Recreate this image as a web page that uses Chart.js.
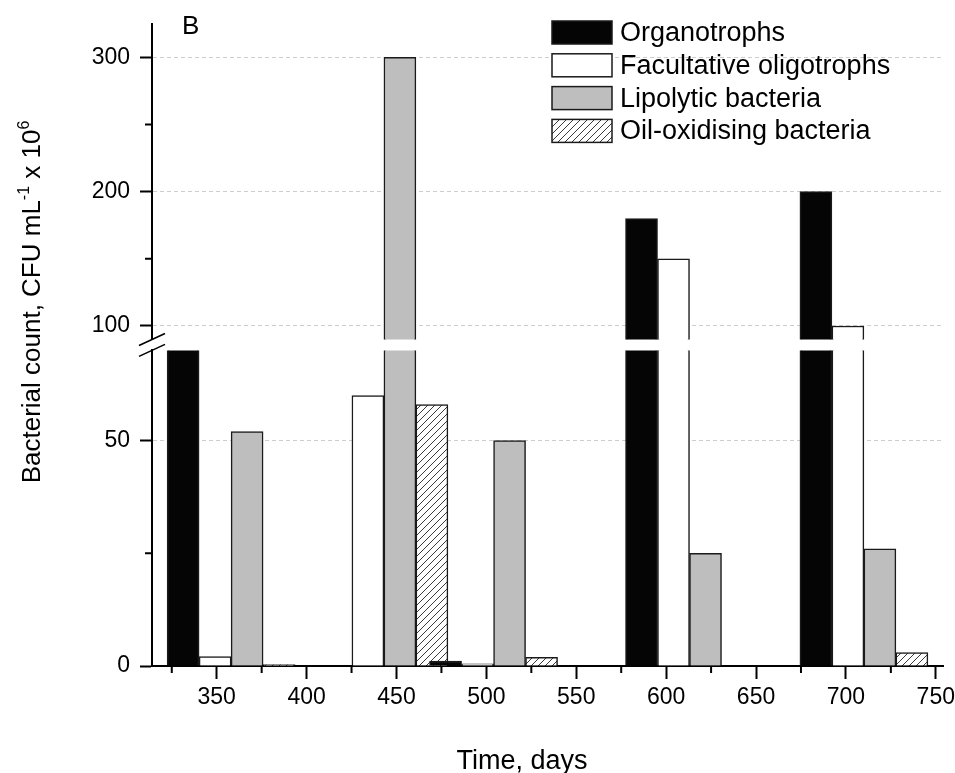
<!DOCTYPE html>
<html>
<head>
<meta charset="utf-8">
<script src="https://cdn.jsdelivr.net/npm/chart.js@4.4.1/dist/chart.umd.min.js"></script>
<style>
  html, body { margin: 0; padding: 0; background: #fff; }
</style>
</head>
<body>
<canvas id="myChart" width="955" height="773"></canvas>
<script>
// sampling days and counts (CFU mL-1 x 10^6)
const days = [358, 443, 504, 613, 710];
const organotrophs = [80, 0, 1.1, 180, 200];
const facultativeOligotrophs = [2.1, 60, 0.5, 150, 100];
const lipolyticBacteria = [52, 300, 50, 25, 26];
const oilOxidisingBacteria = [0.3, 58, 1.9, 0, 3];
const seriesNames = ['Organotrophs', 'Facultative oligotrophs', 'Lipolytic bacteria', 'Oil-oxidising bacteria'];

const xTicks = [350, 400, 450, 500, 550, 600, 650, 700, 750];
const xMinorTicks = [325, 375, 425, 475, 525, 575, 625, 675, 725];
const upperTicks = [100, 200, 300];
const upperMinorTicks = [150, 250];
const lowerTicks = [0, 50];
const lowerMinorTicks = [25];

const fontFamily = "'Liberation Sans', Arial, Helvetica, sans-serif";
const tickFont = { family: fontFamily, size: 23 };

const canvas = document.getElementById('myChart');
const ctx = canvas.getContext('2d');

function hatchPattern() {
  const c = document.createElement('canvas');
  c.width = 7; c.height = 7;
  const g = c.getContext('2d');
  g.fillStyle = '#fff';
  g.fillRect(0, 0, 7, 7);
  g.strokeStyle = '#3a3a3a';
  g.lineWidth = 1;
  g.beginPath();
  g.moveTo(0, 7); g.lineTo(7, 0);
  g.moveTo(-1, 1); g.lineTo(1, -1);
  g.moveTo(6, 8); g.lineTo(8, 6);
  g.stroke();
  return ctx.createPattern(c, 'repeat');
}

const seriesData = [organotrophs, facultativeOligotrophs, lipolyticBacteria, oilOxidisingBacteria];
const fills = ['#050505', '#ffffff', '#bebebe', hatchPattern()];

// same series drawn twice: once on the upper segment, once on the lower one
const datasets = [];
['yHigh', 'yLow'].forEach(axis => {
  seriesNames.forEach((name, i) => {
    datasets.push({
      label: name,
      data: seriesData[i],
      yAxisID: axis,
      stack: 's' + i,
      backgroundColor: fills[i],
      borderColor: '#1a1a1a',
      borderWidth: 1.5,
      barThickness: 32,
      clip: 0
    });
  });
});

const fixTicks = list => scale => { scale.ticks = list.map(v => ({ value: v })); };

const yGrid = {
  color: ctx => ctx.tick && ctx.tick.value === 0 ? 'rgba(0,0,0,0)' : '#cdcdcd',
  lineWidth: 1,
  tickLength: 12,
  tickColor: '#000',
  tickWidth: 2
};

const decorations = {
  id: 'decorations',
  afterDraw(chart) {
    const c = chart.ctx;
    const x = chart.scales.x, hi = chart.scales.yHigh, lo = chart.scales.yLow;
    const axisX = hi.right;
    c.save();
    c.strokeStyle = '#000';
    c.lineWidth = 2;
    c.beginPath();
    xMinorTicks.forEach(v => {
      const px = x.getPixelForValue(v);
      c.moveTo(px, x.top); c.lineTo(px, x.top + 7);
    });
    upperMinorTicks.forEach(v => {
      const py = hi.getPixelForValue(v);
      c.moveTo(axisX - 7, py); c.lineTo(axisX, py);
    });
    lowerMinorTicks.forEach(v => {
      const py = lo.getPixelForValue(v);
      c.moveTo(axisX - 7, py); c.lineTo(axisX, py);
    });
    c.stroke();

    // axis break marks
    c.lineWidth = 1.6;
    c.beginPath();
    [hi.bottom, lo.top].forEach(y => {
      c.moveTo(axisX - 13, y + 6); c.lineTo(axisX + 13, y - 6);
    });
    c.stroke();

    // legend
    const lx = 552, ly = 21, bw = 60, bh = 23, pitch = 32.8;
    c.font = '27px ' + fontFamily;
    c.textBaseline = 'middle';
    c.textAlign = 'left';
    chart.data.datasets.slice(0, 4).forEach((ds, i) => {
      const top = ly + i * pitch;
      c.fillStyle = ds.backgroundColor;
      c.fillRect(lx, top, bw, bh);
      c.lineWidth = 1.5;
      c.strokeStyle = '#1a1a1a';
      c.strokeRect(lx, top, bw, bh);
      c.fillStyle = '#000';
      c.fillText(ds.label, lx + bw + 8, top + bh / 2 + 1);
    });

    // panel letter
    c.textBaseline = 'alphabetic';
    c.font = '26px ' + fontFamily;
    c.fillText('B', 182, 34);

    // x title
    c.font = '27px ' + fontFamily;
    c.textAlign = 'center';
    c.fillText('Time, days', 522, 769);

    // y title with superscripts
    const parts = [
      ['Bacterial count, CFU mL', 26, 0],
      ['-1', 16, -11],
      [' x 10', 26, 0],
      ['6', 16, -11]
    ];
    let total = 0;
    parts.forEach(p => { c.font = p[1] + 'px ' + fontFamily; p.push(c.measureText(p[0]).width); total += p[3]; });
    c.translate(40, 302);
    c.rotate(-Math.PI / 2);
    c.textAlign = 'left';
    let pos = -total / 2;
    parts.forEach(p => {
      c.font = p[1] + 'px ' + fontFamily;
      c.fillText(p[0], pos, p[2]);
      pos += p[3];
    });
    c.restore();
  }
};

new Chart(canvas, {
  type: 'bar',
  data: { labels: days, datasets: datasets },
  options: {
    responsive: false,
    animation: false,
    devicePixelRatio: 1,
    layout: { padding: { left: 0, top: 23, right: 12, bottom: 0 } },
    plugins: { legend: { display: false }, tooltip: { enabled: false } },
    scales: {
      x: {
        type: 'linear',
        position: 'bottom',
        offset: false,
        min: 314,
        max: 754,
        afterBuildTicks: fixTicks(xTicks),
        afterFit: s => { s.height = 107; s.paddingLeft = 0; s.paddingRight = 0; },
        grid: { offset: false, drawOnChartArea: false, tickLength: 13, tickColor: '#000', tickWidth: 2 },
        border: { color: '#000', width: 2 },
        ticks: { font: tickFont, color: '#000', padding: 5, maxRotation: 0, autoSkip: false }
      },
      yHigh: {
        type: 'linear',
        position: 'left',
        stack: 'y',
        stackWeight: 316,
        weight: 3,
        stacked: false,
        min: 90,
        max: 325,
        afterBuildTicks: fixTicks(upperTicks),
        afterFit: s => { s.width = 152; },
        grid: yGrid,
        border: { color: '#000', width: 2, dash: [4, 3] },
        ticks: { font: tickFont, color: '#000', padding: 10 }
      },
      yGap: {
        type: 'linear',
        position: 'left',
        stack: 'y',
        stackWeight: 11,
        weight: 2,
        min: 0,
        max: 1,
        display: true,
        afterFit: s => { s.width = 152; },
        grid: { display: false },
        border: { display: false },
        ticks: { display: false }
      },
      yLow: {
        type: 'linear',
        position: 'left',
        stack: 'y',
        stackWeight: 316,
        weight: 1,
        stacked: false,
        min: 0,
        max: 70,
        afterBuildTicks: fixTicks(lowerTicks),
        afterFit: s => { s.width = 152; },
        grid: yGrid,
        border: { color: '#000', width: 2, dash: [4, 3] },
        ticks: { font: tickFont, color: '#000', padding: 10 }
      }
    }
  },
  plugins: [decorations]
});
</script>
</body>
</html>
